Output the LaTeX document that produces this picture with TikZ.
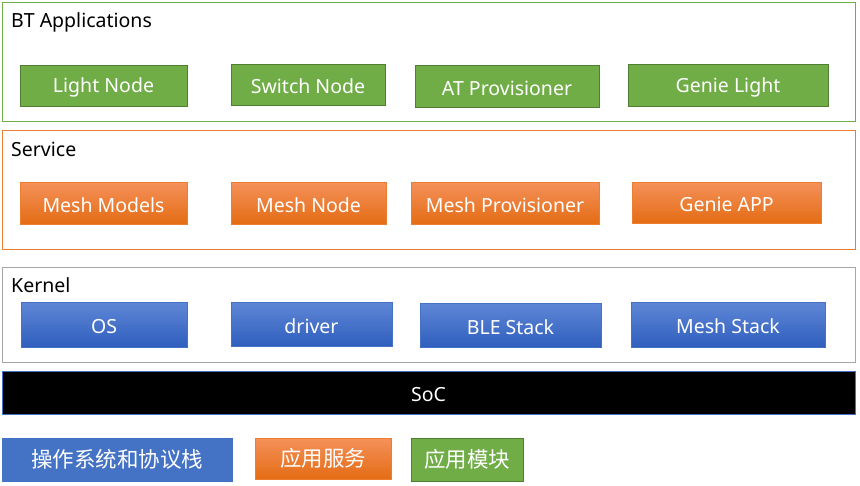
\documentclass[tikz,border=0pt]{standalone}
\usepackage{fontspec}
\setmainfont{Noto Sans}
\newfontfamily\cjk{Noto Sans CJK SC}
\definecolor{gfill}{HTML}{70AD47}
\definecolor{gborder}{HTML}{507E32}
\definecolor{oborder}{HTML}{ED7D31}
\definecolor{otop}{HTML}{F4915A}
\definecolor{obot}{HTML}{E46C14}
\definecolor{btop}{HTML}{5F87D6}
\definecolor{bbot}{HTML}{2F5EBD}
\definecolor{bborder}{HTML}{4472C4}
\definecolor{kborder}{HTML}{A6A6A6}
\begin{document}
\begin{tikzpicture}[x=1pt,y=-1pt,
  frame/.style={draw=#1,line width=1pt},
  gbox/.style={draw=gborder,fill=gfill,line width=0.8pt},
  obox/.style={draw=oborder,top color=otop,bottom color=obot,line width=0.8pt},
  bbox/.style={draw=bborder,top color=btop,bottom color=bbot,line width=0.8pt},
  txt/.style={text=white,yshift=-2pt,font=\fontsize{19.5}{22}\selectfont},
  lbl/.style={anchor=base west,inner sep=0pt,font=\fontsize{19.5}{22}\selectfont,text=black},
  ctxt/.style={text=white,font=\cjk\fontsize{21.5}{24}\selectfont}]
\useasboundingbox (0,0) rectangle (860,485);
% frames
\draw[frame=gfill] (2,2) rectangle (855,121);
\node[lbl] (bt) at (11,27) {BT Applications};
\draw[frame=oborder] (2,130) rectangle (855,249);
\node[lbl] (svc) at (11,156) {Service};
\draw[frame=kborder] (2,267) rectangle (855,362);
\node[lbl] (ker) at (11,292) {Kernel};
% BT apps
\draw[gbox] (20,65) rectangle (187,106) node[midway,txt] (ln) {Light Node};
\draw[gbox] (231,64) rectangle (385,105) node[midway,txt] (sn) {Switch Node};
\draw[gbox] (415,65) rectangle (599,107) node[midway,txt] (atp) {AT Provisioner};
\draw[gbox] (628,64) rectangle (828,106) node[midway,txt] (gl) {Genie Light};
% service
\draw[obox] (20,182) rectangle (187,224) node[midway,txt] (mm) {Mesh Models};
\draw[obox] (231,182) rectangle (386,224) node[midway,txt] (mn) {Mesh Node};
\draw[obox] (411,182) rectangle (599,224) node[midway,txt] (mp) {Mesh Provisioner};
\draw[obox] (632,182) rectangle (821,223) node[midway,txt] (ga) {Genie APP};
% kernel
\draw[bbox] (21,302) rectangle (187,347) node[midway,txt] (os) {OS};
\draw[bbox] (231,302) rectangle (392,346) node[midway,txt] (drv) {driver};
\draw[bbox] (420,303) rectangle (601,347) node[midway,txt] (ble) {BLE Stack};
\draw[bbox] (631,302) rectangle (825,347) node[midway,txt] (ms) {Mesh Stack};
% SoC
\draw[draw=bborder,fill=black,line width=1pt] (2,371) rectangle (855,414) node[midway,txt] (soc) {SoC};
% legend
\draw[draw=bborder,fill=bborder] (2,438) rectangle (232,481) node[midway,ctxt] (l1) {操作系统和协议栈};
\draw[obox] (255,438) rectangle (391,479) node[midway,ctxt] (l2) {应用服务};
\draw[gbox] (411,438) rectangle (523,481) node[midway,ctxt] (l3) {应用模块};
\end{tikzpicture}
\end{document}
